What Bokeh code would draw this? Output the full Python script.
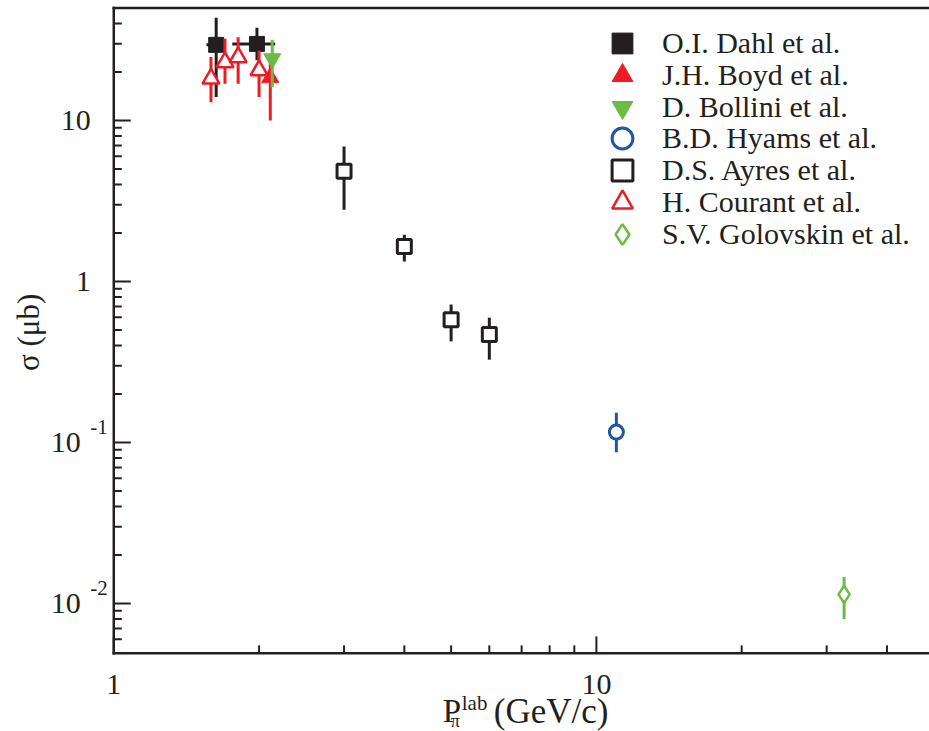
import math
from bokeh.plotting import figure
from bokeh.models import Legend, LegendItem, ColumnDataSource
from bokeh.core.properties import value
from bokeh.embed import file_html
from bokeh.resources import INLINE

# ---------------- data ----------------
dahl_x = [1.63, 1.98]
dahl_y = [29.5, 29.9]
dahl_lo = [14.0, 23.7]
dahl_hi = [43.5, 37.7]
dahl_xlo = [1.556, 1.76]
dahl_xhi = [1.686, 2.16]

courant_x = [1.59, 1.70, 1.81, 2.00]
courant_y = [18.2, 23.0, 24.7, 20.5]
courant_lo = [13.0, 16.9, 16.9, 14.0]
courant_hi = [24.8, 32.2, 32.9, 27.2]

boyd_x = [2.11]
boyd_y = [18.5]
boyd_lo = [10.0]
boyd_hi = [23.6]

bollini_x = [2.13]
bollini_y = [24.2]
bollini_lo = [16.1]
bollini_hi = [31.7]

ayres_x = [3.0, 4.0, 5.0, 6.0]
ayres_y = [4.84, 1.65, 0.578, 0.469]
ayres_lo = [2.79, 1.33, 0.425, 0.327]
ayres_hi = [6.9, 1.95, 0.719, 0.596]

hyams_x = [11.0]
hyams_y = [0.116]
hyams_lo = [0.087]
hyams_hi = [0.153]

golov_x = [32.6]
golov_y = [0.0114]
golov_lo = [0.0080]
golov_hi = [0.0146]

legend_labels = ["O.I. Dahl et al.", "J.H. Boyd et al.", "D. Bollini et al.",
                 "B.D. Hyams et al.", "D.S. Ayres et al.", "H. Courant et al.",
                 "S.V. Golovskin et al."]

x_major = [1, 10]
x_minor = [2, 3, 4, 5, 6, 7, 8, 9, 20, 30, 40]
x_tick_labels = ["1", "10"]
y_major = [0.01, 0.1, 1, 10]
y_minor = [0.006, 0.007, 0.008, 0.009,
           0.02, 0.03, 0.04, 0.05, 0.06, 0.07, 0.08, 0.09,
           0.2, 0.3, 0.4, 0.5, 0.6, 0.7, 0.8, 0.9,
           2, 3, 4, 5, 6, 7, 8, 9, 20, 30, 40]
y_tick_base = ["10", "10", "1", "10"]
y_tick_exp = ["-2", "-1", "", ""]

# axis extents (data units) and the view around them
X_LO, X_HI = 1.0, 49.0
Y_LO, Y_HI = 0.0049, 50.0
VIEW_X = (0.5825, 49.0)
VIEW_Y = (0.001603, 55.63)

INK = "#231f20"
RED = "#ed1c24"
GREEN = "#6cbb45"
BLUE = "#1f56a5"
FONT = "Liberation Serif"

p = figure(width=929, height=731, x_axis_type="log", y_axis_type="log",
           x_range=VIEW_X, y_range=VIEW_Y,
           x_axis_location=None, y_axis_location=None,
           output_backend="svg", toolbar_location=None,
           min_border_left=0, min_border_right=0, min_border_top=0, min_border_bottom=0)
p.outline_line_color = None
p.grid.visible = False
p.background_fill_color = "white"
p.border_fill_color = "white"

# ---- axes: frame lines (left, bottom, top) ----
p.segment(x0=[X_LO, X_LO, X_LO], y0=[Y_LO, Y_LO, Y_HI],
          x1=[X_LO, X_HI, X_HI], y1=[Y_HI, Y_LO, Y_HI],
          line_color=INK, line_width=2.5, line_cap="square")
# ticks pointing inward
p.ray(x=[X_LO] * len(y_major), y=y_major, length=17, length_units="screen", angle=0,
      line_color=INK, line_width=2)
p.ray(x=[X_LO] * len(y_minor), y=y_minor, length=8, length_units="screen", angle=0,
      line_color=INK, line_width=2)
p.ray(x=x_major, y=[Y_LO] * len(x_major), length=17, length_units="screen",
      angle=math.pi / 2, line_color=INK, line_width=2)
p.ray(x=x_minor, y=[Y_LO] * len(x_minor), length=8, length_units="screen",
      angle=math.pi / 2, line_color=INK, line_width=2)

# tick labels
p.text(x=x_major, y=[Y_LO] * len(x_major), text=x_tick_labels, y_offset=31,
       text_align="center", text_baseline="middle", text_font=value(FONT),
       text_font_size=value("30px"), text_color=INK)
base_off = [-33 if e else -23 for e in y_tick_exp]
p.text(x=[X_LO] * len(y_major), y=y_major, text=y_tick_base, x_offset=base_off,
       text_align="right", text_baseline="middle", text_font=value(FONT),
       text_font_size=value("30px"), text_color=INK)
exp_y = [v for v, e in zip(y_major, y_tick_exp) if e]
exp_t = [e for e in y_tick_exp if e]
p.text(x=[X_LO] * len(exp_y), y=exp_y, text=exp_t, x_offset=-6, y_offset=-15,
       text_align="right", text_baseline="middle", text_font=value(FONT),
       text_font_size=value("21px"), text_color=INK)

# axis titles
p.text(x=[X_LO], y=[Y_LO], text=["σ (μb)"], x_offset=-85, y_offset=-321,
       angle=math.pi / 2, text_align="center", text_baseline="middle",
       text_font=value(FONT), text_font_size=value("31px"), text_color=INK)
p.text(x=[X_LO], y=[Y_LO], text=["P"], x_offset=329, y_offset=58,
       text_align="left", text_baseline="middle",
       text_font=value(FONT), text_font_size=value("33px"), text_color=INK)
p.text(x=[X_LO], y=[Y_LO], text=["π"], x_offset=337, y_offset=68,
       text_align="left", text_baseline="middle",
       text_font=value(FONT), text_font_size=value("18px"), text_color=INK)
p.text(x=[X_LO], y=[Y_LO], text=["lab"], x_offset=348, y_offset=50,
       text_align="left", text_baseline="middle",
       text_font=value(FONT), text_font_size=value("21px"), text_color=INK)
p.text(x=[X_LO], y=[Y_LO], text=["(GeV/c)"], x_offset=380, y_offset=58,
       text_align="left", text_baseline="middle",
       text_font=value(FONT), text_font_size=value("35px"), text_color=INK)


def errbars(x, lo, hi, color):
    src = ColumnDataSource(dict(x=x, lo=lo, hi=hi))
    p.segment(x0="x", y0="lo", x1="x", y1="hi", source=src, line_width=3, line_color=color)


# Dahl
errbars(dahl_x, dahl_lo, dahl_hi, INK)
p.segment(x0=dahl_xlo, y0=dahl_y, x1=dahl_xhi, y1=dahl_y, line_width=3, line_color=INK)
r_dahl = p.scatter(dahl_x, dahl_y, marker="square", size=15, fill_color=INK, line_color=INK)

# Courant
errbars(courant_x, courant_lo, courant_hi, RED)
r_courant = p.scatter(courant_x, courant_y, marker="triangle", size=17, fill_color="white",
                      line_color=RED, line_width=2.5)

# Boyd
errbars(boyd_x, boyd_lo, boyd_hi, RED)
r_boyd = p.scatter(boyd_x, boyd_y, marker="triangle", size=17, fill_color=RED, line_color=RED)

# Bollini
errbars(bollini_x, bollini_lo, bollini_hi, GREEN)
r_bollini = p.scatter(bollini_x, bollini_y, marker="inverted_triangle", size=17,
                      fill_color=GREEN, line_color=GREEN)

# Ayres
errbars(ayres_x, ayres_lo, ayres_hi, INK)
r_ayres = p.scatter(ayres_x, ayres_y, marker="square", size=14, fill_color="white",
                    line_color=INK, line_width=3)

# Hyams
errbars(hyams_x, hyams_lo, hyams_hi, BLUE)
r_hyams = p.scatter(hyams_x, hyams_y, marker="circle", size=14, fill_color="white",
                    line_color=BLUE, line_width=3)

# Golovskin
errbars(golov_x, golov_lo, golov_hi, GREEN)
r_golov = p.scatter(golov_x, golov_y, marker="diamond", size=17, fill_color="white",
                    line_color=GREEN, line_width=2.5)

# legend: one single-item legend per row so rows can sit closer than the glyph box
renderers = [r_dahl, r_boyd, r_bollini, r_hyams, r_ayres, r_courant, r_golov]
ROW = 31.8
for i, (lab, r) in enumerate(zip(legend_labels, renderers)):
    lg = Legend(items=[LegendItem(label=lab, renderers=[r])],
                location=(596, int(round(662 - ROW * i))),
                glyph_width=52, glyph_height=52, spacing=0,
                padding=0, margin=0, border_line_color=None, background_fill_alpha=0,
                label_text_font=FONT, label_text_font_size="30px", label_text_color=INK,
                label_standoff=14, label_height=30)
    p.add_layout(lg)

open("out.html", "w").write(file_html(p, INLINE))
